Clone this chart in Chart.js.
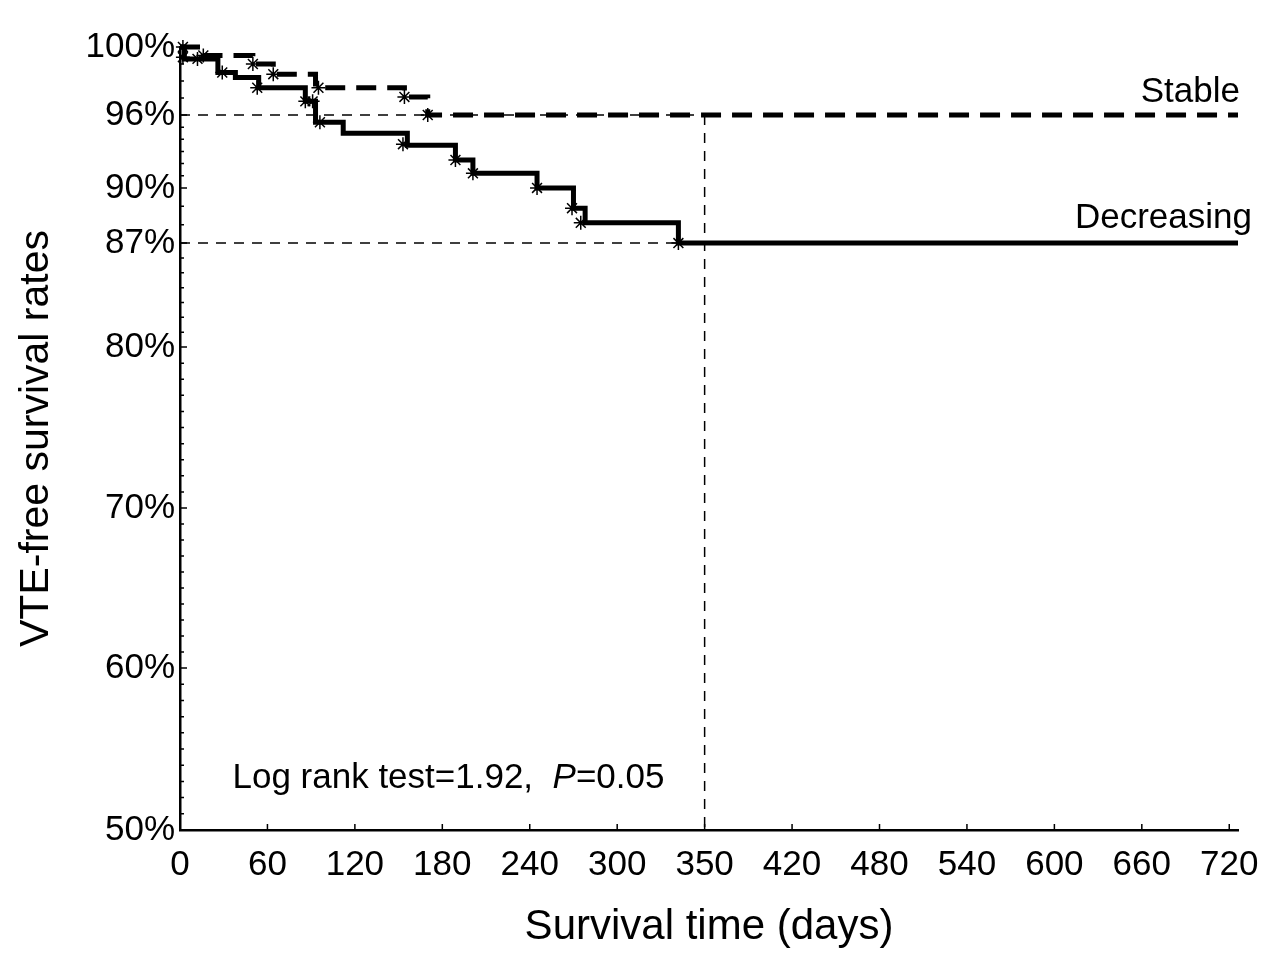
<!DOCTYPE html>
<html>
<head>
<meta charset="utf-8">
<script src="https://cdn.jsdelivr.net/npm/chart.js@4.4.1/dist/chart.umd.min.js"></script>
<style>
  html, body { margin: 0; padding: 0; background: #fff; }
</style>
</head>
<body>
<canvas id="chart" width="1280" height="975"></canvas>
<script>
// Kaplan-Meier steps (day, survival %)
const decDays = [0, 3, 26, 38, 54, 86, 93, 112, 156, 189, 201, 245, 270, 278, 342, 726];
const decSurv = [100, 99.3, 98.5, 98.2, 97.6, 96.8, 95.4, 94.5, 93.5, 92.3, 91.2, 90.0, 88.9, 88.1, 87.0, 87.0];

const stableDays = [0, 16, 50, 64, 93, 154, 170, 726];
const stableSurv = [100, 99.5, 99.0, 98.4, 97.6, 97.06, 96.0, 96.0];

// censored marks
const decCensorDays = [2, 12, 29, 53, 86, 91, 96, 153, 189, 201, 245, 269, 275, 342];
const decCensorSurv = [99.4, 99.3, 98.5, 97.6, 96.8, 96.8, 95.4, 93.6, 92.3, 91.2, 90.0, 88.9, 88.1, 87.0];
const stableCensorDays = [2, 16, 50, 64, 95, 154, 170];
const stableCensorSurv = [100, 99.5, 99.0, 98.4, 97.6, 97.06, 96.0];

// reference lines
const refDay = 360;
const refStable = 96;
const refDec = 87;

// axes
const xTickValues = [0, 60, 120, 180, 240, 300, 360, 420, 480, 540, 600, 660, 720];
const xTickLabels = ["0", "60", "120", "180", "240", "300", "350", "420", "480", "540", "600", "660", "720"];
const yTickValues = [50, 60, 70, 80, 87, 90, 96, 100];
const yTickLabels = ["50%", "60%", "70%", "80%", "87%", "90%", "96%", "100%"];
const yMinorTicks = Array.from({ length: 51 }, (_, i) => 50 + i);

// the printed y axis is not linear: where each labelled value sits on a 50-100 linear run
const yWarpFrom = [50, 60, 70, 80, 87, 90, 96, 100];
const yWarpTo = [50, 60.34, 70.56, 80.84, 87.48, 91.0, 95.66, 100];

function interp(v, from, to) {
    if (v <= from[0]) return to[0] + (v - from[0]) * (to[1] - to[0]) / (from[1] - from[0]);
    for (let i = 1; i < from.length; i++) {
        if (v <= from[i]) {
            return to[i - 1] + (v - from[i - 1]) * (to[i] - to[i - 1]) / (from[i] - from[i - 1]);
        }
    }
    const n = from.length - 1;
    return to[n] + (v - from[n]) * (to[n] - to[n - 1]) / (from[n] - from[n - 1]);
}

class WarpScale extends Chart.LinearScale {
    getPixelForValue(value) {
        return super.getPixelForValue(value == null ? value : interp(value, yWarpFrom, yWarpTo));
    }
    getValueForPixel(pixel) {
        return interp(super.getValueForPixel(pixel), yWarpTo, yWarpFrom);
    }
}
WarpScale.id = "warp";
WarpScale.defaults = Chart.LinearScale.defaults;
Chart.register(WarpScale);

const FONT = '"Liberation Sans", Arial, sans-serif';
Chart.defaults.font.family = FONT;
Chart.defaults.color = "#000";

const pts = (xs, ys) => xs.map((d, i) => ({ x: d, y: ys[i] }));

const marks = {
    id: "marks",
    afterDraw(chart) {
        const { ctx, chartArea: a, scales: { x, y } } = chart;
        ctx.save();
        ctx.strokeStyle = "#000";
        ctx.lineWidth = 1.5;
        ctx.beginPath();
        yMinorTicks.forEach((v) => {
            const py = y.getPixelForValue(v);
            const len = yTickValues.includes(v) ? 7 : 4;
            ctx.moveTo(a.left, py);
            ctx.lineTo(a.left + len, py);
        });
        xTickValues.forEach((v) => {
            const px = x.getPixelForValue(v);
            ctx.moveTo(px, a.bottom);
            ctx.lineTo(px, a.bottom - 6);
        });
        ctx.stroke();

        ctx.fillStyle = "#000";
        ctx.textBaseline = "middle";
        ctx.font = "35px " + FONT;
        ctx.textAlign = "right";
        ctx.fillText("Stable", a.right + 2, y.getPixelForValue(refStable) - 23);
        ctx.fillText("Decreasing", a.right + 14, y.getPixelForValue(refDec) - 25);

        // log rank note, P in italics
        ctx.textAlign = "left";
        let tx = x.getPixelForValue(36);
        const ty = y.getPixelForValue(53.2);
        const parts = [["Log rank test=1.92,  ", ""], ["P", "italic "], ["=0.05", ""]];
        parts.forEach(([t, style]) => {
            ctx.font = style + "35px " + FONT;
            ctx.fillText(t, tx, ty);
            tx += ctx.measureText(t).width;
        });
        ctx.restore();
    }
};

const refStyle = {
    borderColor: "#000",
    borderWidth: 1.5,
    borderDash: [10, 8],
    pointRadius: 0,
    fill: false
};

new Chart(document.getElementById("chart"), {
    type: "line",
    data: {
        datasets: [
            {
                label: "Decreasing",
                data: pts(decDays, decSurv),
                stepped: true,
                borderColor: "#000",
                borderWidth: 5,
                pointRadius: 0,
                fill: false,
                clip: false
            },
            {
                label: "Stable",
                data: pts(stableDays, stableSurv),
                stepped: true,
                borderColor: "#000",
                borderWidth: 5,
                borderDash: [20, 11],
                pointRadius: 0,
                fill: false,
                clip: false
            },
            {
                label: "Decreasing censored",
                data: pts(decCensorDays, decCensorSurv),
                showLine: false,
                pointStyle: "star",
                pointRadius: 7,
                pointBorderWidth: 1.5,
                pointBorderColor: "#000",
                clip: false
            },
            {
                label: "Stable censored",
                data: pts(stableCensorDays, stableCensorSurv),
                showLine: false,
                pointStyle: "star",
                pointRadius: 7,
                pointBorderWidth: 1.5,
                pointBorderColor: "#000",
                clip: false
            },
            Object.assign({ data: [{ x: 0, y: refStable }, { x: refDay, y: refStable }] }, refStyle),
            Object.assign({ data: [{ x: 0, y: refDec }, { x: refDay, y: refDec }] }, refStyle),
            Object.assign({ data: [{ x: refDay, y: refStable }, { x: refDay, y: 50 }] }, refStyle)
        ]
    },
    options: {
        responsive: false,
        animation: false,
        events: [],
        layout: { padding: { top: 47, right: 42, left: 0, bottom: 0 } },
        plugins: { legend: { display: false }, tooltip: { enabled: false } },
        scales: {
            x: {
                type: "linear",
                min: 0,
                max: 726,
                afterBuildTicks: (s) => { s.ticks = xTickValues.map((v) => ({ value: v })); },
                afterFit: (s) => { s.height = 145; },
                grid: { display: false, drawTicks: false },
                border: { display: true, color: "#000", width: 2.5 },
                ticks: {
                    autoSkip: false,
                    maxRotation: 0,
                    padding: 14,
                    font: { size: 35, lineHeight: 1.2 },
                    callback: (v, i) => xTickLabels[i]
                },
                title: {
                    display: true,
                    text: "Survival time (days)",
                    font: { size: 42, lineHeight: 1.2 },
                    padding: { top: 0, bottom: 22 }
                }
            },
            y: {
                type: "warp",
                min: 50,
                max: 100,
                afterBuildTicks: (s) => { s.ticks = yMinorTicks.map((v) => ({ value: v })); },
                afterFit: (s) => { s.width = 180; },
                grid: { display: false, drawTicks: false },
                border: { display: true, color: "#000", width: 2.5 },
                ticks: {
                    autoSkip: false,
                    padding: 5,
                    font: { size: 35, lineHeight: 1.2 },
                    callback: (v) => {
                        const i = yTickValues.indexOf(v);
                        return i >= 0 ? yTickLabels[i] : "";
                    }
                },
                title: {
                    display: true,
                    text: "VTE-free survival rates",
                    font: { size: 41, lineHeight: 1.2 },
                    padding: { top: 12, bottom: 0 }
                }
            }
        }
    },
    plugins: [marks]
});
</script>
</body>
</html>
